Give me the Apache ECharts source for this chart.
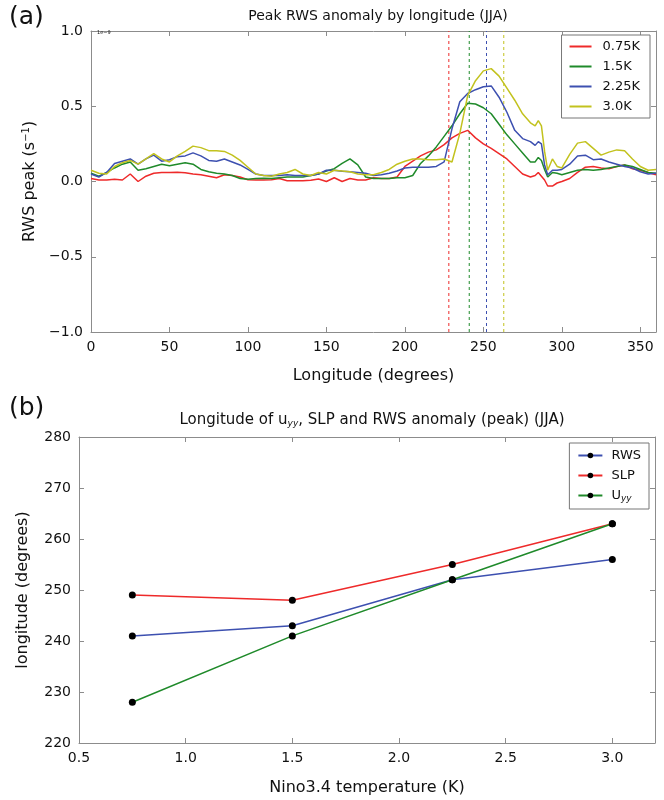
<!doctype html>
<html>
<head>
<meta charset="utf-8">
<title>Peak RWS anomaly</title>
<style>
  html, body { margin: 0; padding: 0; background: #fff; }
  #chart { width: 664px; height: 800px; }
</style>
</head>
<body>
<div id="chart"></div>
<script src="https://cdn.jsdelivr.net/npm/echarts@6/dist/echarts.min.js"></script>
<script>
// longitudes (degrees) shared by the four curves of panel (a)
var lon = [0,5,10,15,20,25,30,35,40,45,50,55,60,65,70,75,80,85,90,95,100,105,110,115,120,125,130,135,140,145,150,155,160,165,170,175,180,185,190,195,200,205,210,215,220,225,230,235,240,245,250,255,260,265,270,275,280,283,285,287,289,291,294,297,300,305,310,315,320,325,330,335,340,345,350,355,360];

// RWS peak (1e-9 s^-1)
var rws075 = [0.02,0.01,0.01,0.015,0.01,0.05,0.0,0.035,0.055,0.06,0.06,0.062,0.058,0.05,0.045,0.035,0.025,0.045,0.04,0.03,0.012,0.01,0.01,0.012,0.02,0.005,0.005,0.005,0.008,0.017,0.0,0.025,0.0,0.02,0.01,0.01,0.025,0.02,0.02,0.03,0.1,0.135,0.17,0.195,0.21,0.245,0.29,0.32,0.34,0.29,0.25,0.22,0.185,0.15,0.1,0.05,0.03,0.04,0.06,0.035,0.01,-0.03,-0.03,-0.01,0.0,0.02,0.06,0.095,0.1,0.09,0.085,0.1,0.11,0.085,0.075,0.06,0.045];
var rws15  = [0.055,0.035,0.06,0.09,0.115,0.13,0.075,0.085,0.1,0.115,0.105,0.115,0.125,0.115,0.08,0.065,0.055,0.05,0.04,0.02,0.015,0.02,0.022,0.02,0.025,0.03,0.03,0.03,0.04,0.05,0.07,0.085,0.12,0.15,0.11,0.03,0.02,0.02,0.02,0.025,0.025,0.04,0.12,0.17,0.23,0.3,0.37,0.45,0.52,0.515,0.49,0.45,0.38,0.31,0.25,0.19,0.13,0.13,0.16,0.14,0.08,0.03,0.06,0.055,0.045,0.06,0.075,0.08,0.075,0.08,0.09,0.1,0.11,0.1,0.08,0.06,0.055];
var rws225 = [0.05,0.03,0.06,0.12,0.135,0.15,0.115,0.15,0.175,0.135,0.145,0.165,0.17,0.19,0.17,0.14,0.135,0.15,0.13,0.11,0.08,0.05,0.04,0.04,0.04,0.045,0.04,0.04,0.04,0.05,0.075,0.075,0.068,0.065,0.06,0.055,0.04,0.045,0.055,0.07,0.09,0.095,0.095,0.095,0.1,0.13,0.35,0.53,0.585,0.61,0.63,0.635,0.56,0.46,0.34,0.285,0.265,0.24,0.265,0.25,0.11,0.045,0.075,0.075,0.08,0.115,0.17,0.175,0.145,0.15,0.13,0.115,0.1,0.09,0.065,0.05,0.055];
var rws30  = [0.075,0.055,0.05,0.1,0.125,0.14,0.115,0.15,0.185,0.15,0.13,0.17,0.2,0.235,0.225,0.205,0.205,0.2,0.175,0.14,0.095,0.05,0.04,0.035,0.05,0.06,0.08,0.05,0.04,0.06,0.05,0.075,0.07,0.065,0.05,0.045,0.045,0.06,0.08,0.115,0.135,0.15,0.15,0.145,0.145,0.15,0.13,0.32,0.57,0.67,0.735,0.75,0.7,0.62,0.54,0.45,0.39,0.37,0.405,0.37,0.2,0.075,0.15,0.1,0.09,0.18,0.255,0.265,0.22,0.175,0.195,0.21,0.205,0.15,0.1,0.075,0.08];

// panel (b): longitude of the peaks against Nino3.4 warming
var nino = [0.75, 1.5, 2.25, 3.0];
var lonRWS = [241, 243, 252, 256];
var lonSLP = [249, 248, 255, 263];
var lonUyy = [228, 241, 252, 263];

var curveNames = ['0.75K', '1.5K', '2.25K', '3.0K'];
var curveColors = ['#ee2a2a', '#1f8a2a', '#3d50b0', '#c2c21e'];
var curves = [rws075, rws15, rws225, rws30];

var font = 'DejaVu Sans';
var axisGray = '#8c8c8c';

function signed(v, d) {
    return (v < 0 ? '\u2212' : '') + Math.abs(v).toFixed(d);
}

function boxAxis(type, gridIndex, pos, show, extra) {
    var ax = {
        type: 'value', gridIndex: gridIndex, position: pos,
        axisLine: { show: true, onZero: false, lineStyle: { color: axisGray, width: 1 } },
        axisTick: { show: true, inside: true, length: 5, lineStyle: { color: axisGray } },
        splitLine: { show: false },
        axisLabel: { show: show, color: '#111', fontFamily: font, fontSize: 14 }
    };
    for (var k in extra) ax[k] = extra[k];
    return ax;
}

var series = [];
// dashed verticals at the u_yy peak longitude of each run
lonUyy.forEach(function (x, i) {
    series.push({
        name: 'uyy ' + curveNames[i], type: 'line', xAxisIndex: 0, yAxisIndex: 0,
        symbol: 'none', silent: true, color: curveColors[i],
        lineStyle: { color: curveColors[i], type: [3, 3], width: 1 },
        data: [[x, -1], [x, 1]], z: 1
    });
});
curves.forEach(function (vals, i) {
    series.push({
        name: curveNames[i], type: 'line', xAxisIndex: 0, yAxisIndex: 0,
        color: curveColors[i],
        showSymbol: false, symbol: 'none', smooth: false,
        lineStyle: { color: curveColors[i], width: 1.5 },
        itemStyle: { color: curveColors[i] },
        data: lon.map(function (x, j) { return [x, vals[j]]; }),
        z: 3
    });
});

var bNames = ['RWS', 'SLP', 'Uyy'];
var bColors = ['#3d50b0', '#ee2a2a', '#1f8a2a'];
[lonRWS, lonSLP, lonUyy].forEach(function (vals, i) {
    series.push({
        name: bNames[i], type: 'line', xAxisIndex: 2, yAxisIndex: 2,
        symbol: 'circle', symbolSize: 7,
        lineStyle: { color: bColors[i], width: 1.5 },
        itemStyle: { color: '#000' },
        data: nino.map(function (x, j) { return [x, vals[j]]; })
    });
});

var chart = echarts.init(document.getElementById('chart'));
chart.setOption({
    animation: false,
    backgroundColor: '#fff',
    textStyle: { fontFamily: font },
    grid: [
        { left: 91, top: 31, width: 565, height: 301 },
        { left: 79, top: 437, width: 576, height: 306 }
    ],
    xAxis: [
        boxAxis('value', 0, 'bottom', true, {
            min: 0, max: 360, interval: 50,
            axisLabel: { show: true, color: '#111', fontFamily: font, fontSize: 14, margin: 8, showMaxLabel: false },
            name: 'Longitude (degrees)', nameLocation: 'middle', nameGap: 36,
            nameTextStyle: { color: '#111', fontFamily: font, fontSize: 16 }
        }),
        boxAxis('value', 0, 'top', false, { min: 0, max: 360, interval: 50 }),
        boxAxis('value', 1, 'bottom', true, {
            min: 0.5, max: 3.2, interval: 0.5,
            axisLabel: { show: true, color: '#111', fontFamily: font, fontSize: 14, margin: 8, showMaxLabel: false,
                formatter: function (v) { return v.toFixed(1); } },
            name: 'Nino3.4 temperature (K)', nameLocation: 'middle', nameGap: 37,
            nameTextStyle: { color: '#111', fontFamily: font, fontSize: 16 }
        }),
        boxAxis('value', 1, 'top', false, { min: 0.5, max: 3.2, interval: 0.5 })
    ],
    yAxis: [
        boxAxis('value', 0, 'left', true, {
            min: -1, max: 1, interval: 0.5,
            axisLabel: { show: true, color: '#111', fontFamily: font, fontSize: 14, margin: 8,
                formatter: function (v) { return signed(v, 1); } },
            name: '{n|RWS peak (s}{s|\u22121}{n|)}', nameLocation: 'middle', nameGap: 46,
            nameTextStyle: { color: '#111', fontFamily: font, fontSize: 16,
                rich: { n: { fontSize: 16, fontFamily: font, color: '#111' },
                        s: { fontSize: 10, fontFamily: font, color: '#111', verticalAlign: 'top', padding: [0, 0, 8, 0] } } }
        }),
        boxAxis('value', 0, 'right', false, { min: -1, max: 1, interval: 0.5 }),
        boxAxis('value', 1, 'left', true, {
            min: 220, max: 280, interval: 10,
            axisLabel: { show: true, color: '#111', fontFamily: font, fontSize: 14, margin: 8 },
            name: 'longitude (degrees)', nameLocation: 'middle', nameGap: 48,
            nameTextStyle: { color: '#111', fontFamily: font, fontSize: 16 }
        }),
        boxAxis('value', 1, 'right', false, { min: 220, max: 280, interval: 10 })
    ],
    legend: [
        {
            data: curveNames, orient: 'vertical', right: 14, top: 35,
            itemWidth: 22, itemHeight: 2, itemGap: 7, icon: 'rect',
            padding: [5, 10, 5, 8],
            borderColor: '#777', borderWidth: 1, borderRadius: 0, backgroundColor: '#fff',
            textStyle: { fontFamily: font, fontSize: 13, color: '#111', padding: [0, 0, 0, 6] }
        },
        {
            data: bNames, orient: 'vertical', right: 15, top: 443,
            itemWidth: 24, itemHeight: 7, itemGap: 7,
            padding: [6, 8, 6, 8],
            borderColor: '#777', borderWidth: 1, borderRadius: 0, backgroundColor: '#fff',
            formatter: function (n) { return n === 'Uyy' ? '{n|U}{s|yy}' : '{n|' + n + '}'; },
            textStyle: { fontFamily: font, fontSize: 13, color: '#111', padding: [0, 0, 0, 4],
                rich: { n: { fontSize: 13, fontFamily: font, color: '#111' },
                        s: { fontSize: 9, fontFamily: font, fontStyle: 'italic', color: '#111', verticalAlign: 'bottom', padding: [6, 0, 0, 0] } } }
        }
    ],
    title: [
        { text: 'Peak RWS anomaly by longitude (JJA)', left: 373, top: 4, textAlign: 'center',
          textStyle: { fontFamily: font, fontSize: 14, fontWeight: 'normal', color: '#111' } },
        { text: '{n|Longitude of u}{s|yy}{n|, SLP and RWS anomaly (peak) (JJA)}', left: 367, top: 407, textAlign: 'center',
          textStyle: { fontFamily: font, fontSize: 14, fontWeight: 'normal', color: '#111',
            rich: { n: { fontSize: 15, fontFamily: font, color: '#111' },
                    s: { fontSize: 9, fontFamily: font, fontStyle: 'italic', color: '#111', verticalAlign: 'bottom', padding: [7, 0, 0, 0] } } } },
        { text: '(a)', left: 4, top: 0, textStyle: { fontFamily: font, fontSize: 25, fontWeight: 'normal', color: '#111' } },
        { text: '(b)', left: 4, top: 391, textStyle: { fontFamily: font, fontSize: 25, fontWeight: 'normal', color: '#111' } },
        { text: '1e\u22129', left: 92, top: 25, textStyle: { fontFamily: font, fontSize: 5, fontWeight: 'normal', color: '#111' } }
    ],
    series: series
});
</script>
</body>
</html>
